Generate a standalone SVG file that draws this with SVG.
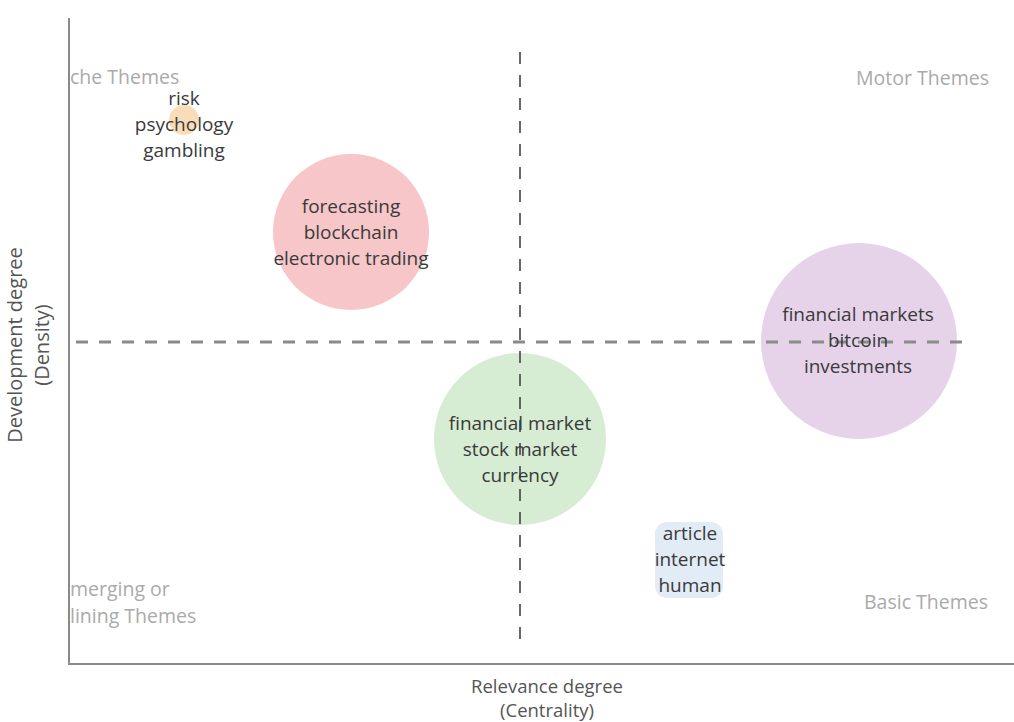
<svg xmlns="http://www.w3.org/2000/svg" width="1014" height="722" viewBox="0 0 1014 722">
<style>
.lbl{font-family:"Open Sans","DejaVu Sans",sans-serif;font-size:19px;fill:#3a3a3a;text-anchor:middle}
.theme{font-family:"Open Sans","DejaVu Sans",sans-serif;font-size:19.5px;fill:#aaaaaa}
.axis{font-family:"Open Sans","DejaVu Sans",sans-serif;font-size:18.5px;fill:#555555;text-anchor:middle}
.axisy{font-family:"Open Sans","DejaVu Sans",sans-serif;font-size:20px;fill:#555555;text-anchor:middle}
</style>
<rect width="1014" height="722" fill="#ffffff"/>
<g id="axes">
<line x1="69" y1="18" x2="69" y2="664" stroke="#8a8a8a" stroke-width="2"/>
<line x1="68" y1="664" x2="1014" y2="664" stroke="#8a8a8a" stroke-width="2"/>
</g>
<g id="bubbles">
<g id="node-red"><circle cx="351" cy="232" r="78" fill="#f6c6c8"/></g>
<g id="node-orange"><circle cx="184" cy="120" r="15" fill="#f9dcb8"/></g>
<g id="node-purple"><circle cx="859" cy="341" r="98" fill="#e6d3ea"/></g>
<g id="node-green"><circle cx="520" cy="439" r="86" fill="#d6ecd3"/></g>
<g id="node-blue"><rect x="655" y="522" width="68" height="76" rx="12" fill="#e2ecf6"/></g>
</g>
<g id="connectors">
<line x1="520" y1="52" x2="520" y2="640" stroke="#444444" stroke-width="1.6" stroke-dasharray="12 11"/>
<line x1="76" y1="342" x2="962" y2="342" stroke="#8a8a8a" stroke-width="3" stroke-dasharray="12 11"/>
</g>
<g id="labels">
<text class="lbl" x="184" y="105">risk</text>
<text class="lbl" x="184" y="131">psychology</text>
<text class="lbl" x="184" y="157">gambling</text>
<text class="lbl" x="351" y="213">forecasting</text>
<text class="lbl" x="351" y="239">blockchain</text>
<text class="lbl" x="351" y="265">electronic trading</text>
<text class="lbl" x="858" y="321">financial markets</text>
<text class="lbl" x="858" y="347">bitcoin</text>
<text class="lbl" x="858" y="373">investments</text>
<text class="lbl" x="520" y="430">financial market</text>
<text class="lbl" x="520" y="456">stock market</text>
<text class="lbl" x="520" y="482">currency</text>
<text class="lbl" x="690" y="540">article</text>
<text class="lbl" x="690" y="566">internet</text>
<text class="lbl" x="690" y="592">human</text>
</g>
<g id="themes">
<text class="theme" x="70" y="84">che Themes</text>
<text class="theme" x="989" y="85" text-anchor="end">Motor Themes</text>
<text class="theme" x="70" y="596">merging or</text>
<text class="theme" x="70" y="623">lining Themes</text>
<text class="theme" x="988" y="609" text-anchor="end">Basic Themes</text>
</g>
<g id="axis-titles">
<text class="axis" x="547" y="693">Relevance degree</text>
<text class="axis" x="547" y="717">(Centrality)</text>
<text class="axisy" transform="translate(22,345) rotate(-90)">Development degree</text>
<text class="axisy" transform="translate(49,345) rotate(-90)">(Density)</text>
</g>
</svg>
